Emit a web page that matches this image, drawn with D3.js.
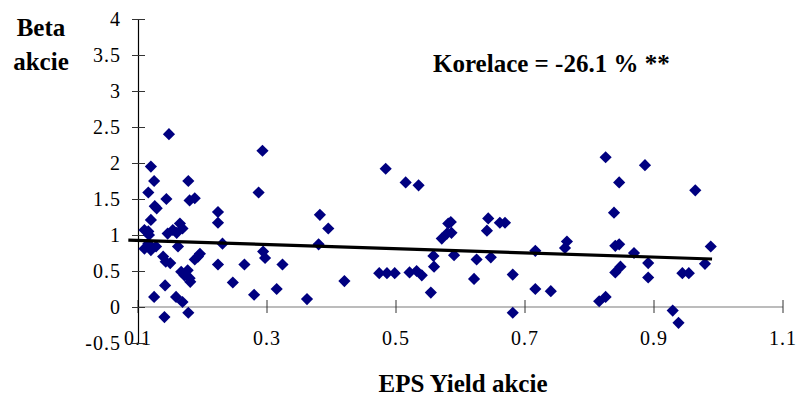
<!DOCTYPE html>
<html>
<head>
<meta charset="utf-8">
<script src="https://cdn.jsdelivr.net/npm/d3@7"></script>
<style>
  html, body { margin: 0; padding: 0; background: #fff; }
  svg { display: block; }
</style>
</head>
<body>
<svg id="chart" width="797" height="398"></svg>
<script>
// EPS yield vs. beta of individual stocks
const epsYield = [
  0.148, 0.293, 0.120, 0.125, 0.178, 0.116, 0.144, 0.287, 0.180, 0.188,
  0.126, 0.129, 0.224, 0.224, 0.120, 0.165, 0.116, 0.117, 0.110, 0.154,
  0.146, 0.169, 0.160, 0.110, 0.120, 0.128, 0.116, 0.162, 0.231, 0.139,
  0.150, 0.143, 0.196, 0.188, 0.193, 0.294, 0.297, 0.224, 0.265, 0.324,
  0.167, 0.177, 0.180, 0.172, 0.181, 0.142, 0.247, 0.315, 0.280, 0.125,
  0.159, 0.169, 0.141, 0.178,
  0.484, 0.515, 0.535, 0.382, 0.395, 0.380, 0.362, 0.420, 0.474, 0.486,
  0.498, 0.521, 0.532, 0.540, 0.554, 0.559, 0.558, 0.571, 0.579, 0.581,
  0.585, 0.586, 0.590, 0.643, 0.641, 0.661, 0.669, 0.625, 0.647, 0.621,
  0.681, 0.681, 0.716, 0.716, 0.740, 0.765, 0.762,
  0.825, 0.886, 0.846, 0.964, 0.838, 0.840, 0.846, 0.988, 0.869, 0.840,
  0.848, 0.891, 0.891, 0.944, 0.954, 0.979, 0.929, 0.938, 0.815, 0.825
];
const beta = [
  2.40, 2.17, 1.95, 1.75, 1.75, 1.59, 1.50, 1.59, 1.48, 1.51,
  1.40, 1.37, 1.32, 1.17, 1.21, 1.16, 1.05, 1.00, 1.07, 1.07,
  1.02, 1.09, 1.03, 0.81, 0.79, 0.84, 0.88, 0.84, 0.88, 0.70,
  0.61, 0.63, 0.74, 0.66, 0.70, 0.77, 0.68, 0.59, 0.59, 0.59,
  0.49, 0.51, 0.40, 0.44, 0.35, 0.30, 0.34, 0.25, 0.17, 0.14,
  0.14, 0.07, -0.14, -0.08,
  1.92, 1.73, 1.69, 1.28, 1.09, 0.87, 0.11, 0.36, 0.47, 0.47,
  0.47, 0.48, 0.50, 0.44, 0.20, 0.56, 0.71, 0.95, 1.02, 1.16,
  1.18, 1.03, 0.72, 1.23, 1.06, 1.17, 1.17, 0.66, 0.69, 0.39,
  0.45, -0.08, 0.78, 0.25, 0.22, 0.91, 0.82,
  2.08, 1.97, 1.73, 1.62, 1.31, 0.85, 0.87, 0.84, 0.75, 0.48,
  0.56, 0.61, 0.41, 0.47, 0.47, 0.60, -0.05, -0.22, 0.08, 0.14
];

// linear trend line end points
const trendX = [0.085, 0.99];
const trendY = [0.93, 0.667];

const xTicks = [0.1, 0.3, 0.5, 0.7, 0.9, 1.1];
const yTicks = [-0.5, 0, 0.5, 1, 1.5, 2, 2.5, 3, 3.5, 4];

const correlationLabel = "Korelace = -26.1 % **";
const xTitle = "EPS Yield akcie";
const yTitle = ["Beta", "akcie"];

const svg = d3.select("#chart");

const x = d3.scaleLinear().domain([0.1, 1.1]).range([138, 783]);
const y = d3.scaleLinear().domain([-0.5, 4]).range([343, 19]);

const serif = "'Liberation Serif', 'Times New Roman', serif";

// horizontal axis crossing at beta = 0, labels along the bottom
svg.append("line")
  .attr("x1", x(0.1)).attr("x2", x(1.1))
  .attr("y1", y(0)).attr("y2", y(0))
  .attr("stroke", "#7a7a7a").attr("stroke-width", 1.2);

svg.append("g").selectAll("line").data(xTicks).join("line")
  .attr("x1", d => x(d)).attr("x2", d => x(d))
  .attr("y1", y(0) - 7).attr("y2", y(0) + 6)
  .attr("stroke", "#333").attr("stroke-width", 1);

svg.append("g").selectAll("text").data(xTicks).join("text")
  .attr("x", d => x(d)).attr("y", 345)
  .attr("text-anchor", "middle")
  .attr("font-family", serif).attr("font-size", 20)
  .attr("letter-spacing", 1)
  .text(d => d3.format(".1f")(d));

// vertical axis
const yAxis = svg.append("g").attr("transform", `translate(${x(0.1)},0)`)
  .call(d3.axisLeft(y).tickValues(yTicks).tickSize(0).tickPadding(17)
    .tickFormat(d => String(d)));
yAxis.select(".domain").attr("stroke", "#000").attr("stroke-width", 1.2);
yAxis.selectAll(".tick text")
  .attr("font-family", serif).attr("font-size", 20)
  .attr("letter-spacing", 1).attr("fill", "#000");
yAxis.selectAll(".tick").append("line")
  .attr("x1", -6).attr("x2", 7)
  .attr("stroke", "#333").attr("stroke-width", 1);

// data points
const diamond = d3.symbol().type(d3.symbolSquare).size(74);
svg.append("g").selectAll("path").data(d3.range(epsYield.length)).join("path")
  .attr("d", diamond)
  .attr("transform", i => `translate(${x(epsYield[i])},${y(beta[i])}) rotate(45)`)
  .attr("fill", "#000080");

// trend line
svg.append("path")
  .datum(d3.range(trendX.length))
  .attr("d", d3.line().x(i => x(trendX[i])).y(i => y(trendY[i])))
  .attr("stroke", "#000").attr("stroke-width", 3.2).attr("fill", "none");

// annotation and titles
svg.append("text")
  .attr("x", 433).attr("y", 72)
  .attr("font-family", serif).attr("font-size", 25).attr("font-weight", "bold")
  .text(correlationLabel);

svg.append("text")
  .attr("x", 463).attr("y", 392)
  .attr("text-anchor", "middle")
  .attr("font-family", serif).attr("font-size", 25).attr("font-weight", "bold")
  .text(xTitle);

svg.append("g").selectAll("text").data(yTitle).join("text")
  .attr("x", 41).attr("y", (d, i) => 36 + i * 34)
  .attr("text-anchor", "middle")
  .attr("font-family", serif).attr("font-size", 25).attr("font-weight", "bold")
  .text(d => d);
</script>
</body>
</html>
